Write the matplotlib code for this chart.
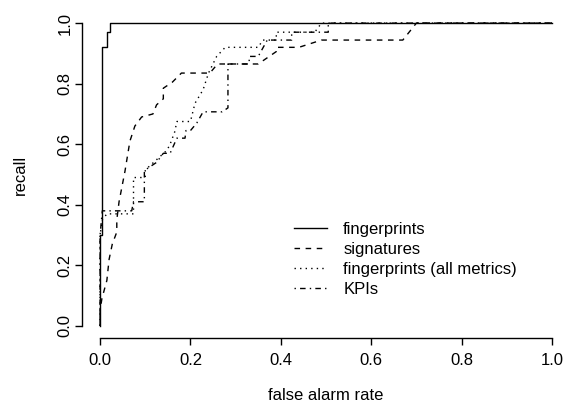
import matplotlib
matplotlib.use("Agg")
import matplotlib.pyplot as plt

# ROC-like curves (false alarm rate, recall)
fp_x = [0, 0, 0.005, 0.005, 0.015, 0.015, 0.022, 0.022, 1.0]
fp_y = [0, 0.30, 0.30, 0.92, 0.92, 0.97, 0.97, 1.0, 1.0]

sig_x = [0, 0, 0.004, 0.015, 0.02, 0.027, 0.037, 0.037, 0.042, 0.055, 0.066, 0.077,
         0.092, 0.117, 0.125, 0.14, 0.14, 0.16, 0.18, 0.243, 0.26, 0.35, 0.39, 0.39,
         0.44, 0.49, 0.67, 0.70, 1.0]
sig_y = [0, 0.05, 0.09, 0.15, 0.22, 0.27, 0.31, 0.35, 0.41, 0.51, 0.61, 0.66,
         0.69, 0.70, 0.73, 0.75, 0.785, 0.805, 0.835, 0.835, 0.865, 0.865, 0.906, 0.92,
         0.92, 0.944, 0.944, 1.0, 1.0]

all_x = [0, 0, 0.005, 0.015, 0.074, 0.074, 0.1, 0.1, 0.148, 0.155, 0.165, 0.17,
         0.2, 0.21, 0.228, 0.24, 0.258, 0.277, 0.35, 0.36, 0.39, 0.39, 0.475, 0.49, 1.0]
all_y = [0, 0.30, 0.35, 0.37, 0.37, 0.49, 0.49, 0.515, 0.58, 0.60, 0.64, 0.675,
         0.675, 0.735, 0.78, 0.835, 0.89, 0.92, 0.92, 0.944, 0.944, 0.97, 0.97, 1.0, 1.0]

kpi_x = [0, 0, 0.005, 0.07, 0.074, 0.098, 0.098, 0.105, 0.125, 0.14, 0.155, 0.17,
         0.188, 0.19, 0.2, 0.214, 0.228, 0.27, 0.283, 0.283, 0.33, 0.33, 0.35, 0.37,
         0.424, 0.424, 0.505, 0.505, 1.0]
kpi_y = [0, 0.30, 0.38, 0.38, 0.41, 0.41, 0.51, 0.52, 0.54, 0.57, 0.57, 0.62,
         0.62, 0.645, 0.645, 0.67, 0.707, 0.707, 0.72, 0.865, 0.865, 0.89, 0.89, 0.944,
         0.944, 0.97, 0.97, 1.0, 1.0]

labels = ["fingerprints", "signatures", "fingerprints (all metrics)", "KPIs"]
ticks = [0.0, 0.2, 0.4, 0.6, 0.8, 1.0]

plt.rcParams['font.family'] = ['Liberation Sans', 'DejaVu Sans']
plt.rcParams['font.size'] = 12
plt.rcParams['lines.scale_dashes'] = False

W, H = 565, 409
fig = plt.figure(figsize=(W / 100, H / 100), dpi=100)
# plot region in pixels: left 82, right 570, top 11, bottom 338
ax = fig.add_axes([82 / W, (H - 338) / H, 488 / W, 327 / H])

u = 1.0  # dash unit in points
lw = 1.0
styles = [
    "-",
    (0, (4 * u, 4 * u)),
    (0, (1 * u, 3 * u)),
    (0, (1 * u, 3 * u, 4 * u, 3 * u)),
]
series = [(fp_x, fp_y), (sig_x, sig_y), (all_x, all_y), (kpi_x, kpi_y)]
for (xs, ys), ls, lab in zip(series, styles, labels):
    ax.plot(xs, ys, color="black", lw=lw, linestyle=ls, label=lab)

ax.set_xlim(-0.04, 1.04)
ax.set_ylim(-0.04, 1.04)
ax.set_xticks(ticks)
ax.set_yticks(ticks)
ax.set_xticklabels([f"{t:.1f}" for t in ticks])
ax.set_yticklabels([f"{t:.1f}" for t in ticks], rotation=90, va="center")
for s in ["top", "right"]:
    ax.spines[s].set_visible(False)
ax.spines["left"].set_bounds(0, 1)
ax.spines["bottom"].set_bounds(0, 1)
for s in ["left", "bottom"]:
    ax.spines[s].set_linewidth(lw)
ax.tick_params(length=5, width=lw)
ax.tick_params(axis="x", pad=6)
ax.tick_params(axis="y", pad=2)
ax.set_xlabel("false alarm rate", labelpad=14)
ax.set_ylabel("recall", labelpad=21)

ax.legend(loc="upper left", bbox_to_anchor=((294 - 82) / 488, (338 - 222) / 327),
          frameon=False, handlelength=2.0, handletextpad=0.95, labelspacing=0.3,
          borderpad=0, borderaxespad=0)

fig.savefig("out.png", dpi=100)
